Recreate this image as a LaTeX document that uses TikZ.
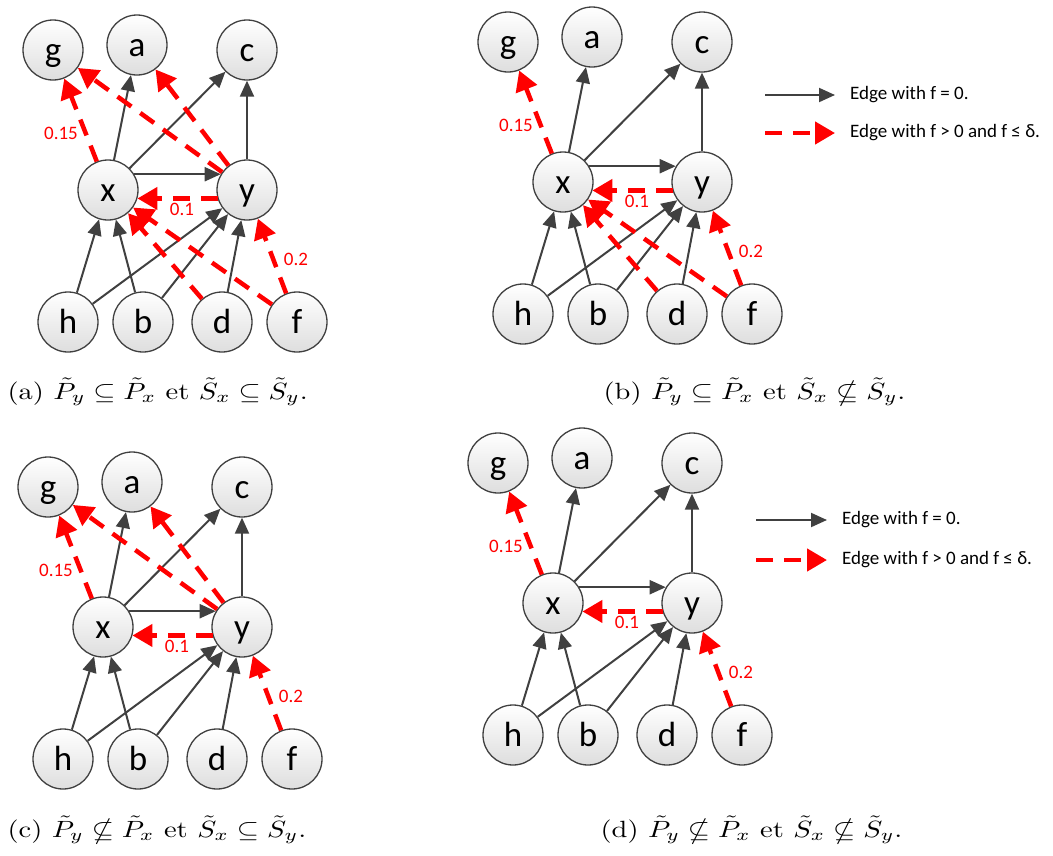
\documentclass[tikz,border=0pt]{standalone}
\usepackage{amssymb}
\usepackage{fontspec}
\newfontfamily\carlito{Carlito}
\usetikzlibrary{arrows.meta}
\definecolor{ln}{HTML}{404040}
\tikzset{
  vnode/.style={circle, draw=ln, line width=1.3pt, minimum size=60pt, inner sep=0pt,
    top color=white, bottom color=black!13, text=black,
    font=\carlito\fontsize{35}{35}\selectfont, text height=22pt, text depth=0pt},
  sol/.style={draw=ln, line width=2pt, -{Triangle[length=16pt,width=14pt]}},
  rdash/.style={draw=red, line width=4.5pt, dash pattern=on 17pt off 11pt,
    -{Triangle[length=20pt,width=22pt]}},
  lbl/.style={text=red, font=\carlito\fontsize{19}{19}\selectfont, inner sep=0pt},
  legtxt/.style={anchor=west, font=\carlito\fontsize{19}{19}\selectfont, inner sep=0pt},
  capt/.style={anchor=base west, inner sep=0pt, font=\fontsize{10}{12}\selectfont, xscale=2.85, yscale=2.35}
}
\newcommand{\gpanel}[3]{%
  \begin{scope}[shift={(#1,#2)}]
    \node[vnode] (#3x) at (0,0) {x};
    \node[vnode] (#3y) at (139,0) {y};
    \node[vnode] (#3g) at (-55,-140) {g};
    \node[vnode] (#3a) at (29,-145) {a};
    \node[vnode] (#3c) at (139,-140) {c};
    \node[vnode] (#3h) at (-40,132) {h};
    \node[vnode] (#3b) at (35,132) {b};
    \node[vnode] (#3d) at (114,132) {d};
    \node[vnode] (#3f) at (189,132) {f};
    \node[lbl] (#3l1) at (-47,-57) {0.15};
    \node[lbl] (#3l2) at (74,19) {0.1};
    \node[lbl] (#3l3) at (188,69) {0.2};
  \end{scope}
  \draw[sol] (#3x) -- (#3a);
  \draw[sol] (#3x) -- (#3c);
  \draw[sol] (#3x.31) -- (#3y.149);
  \draw[sol] (#3y) -- (#3c);
  \draw[sol] (#3h) -- (#3x);
  \draw[sol] (#3b) -- (#3x);
  \draw[sol] (#3h) -- (#3y);
  \draw[sol] (#3b) -- (#3y);
  \draw[sol] (#3d) -- (#3y);
  \draw[rdash] (#3x) -- (#3g);
  \draw[rdash] (#3y.196) -- (#3x.-16);
  \draw[rdash] (#3f) -- (#3y);
}
\begin{document}
\begin{tikzpicture}[x=1pt,y=-1pt]
\useasboundingbox (0,0) rectangle (1053,855);
% panel (a)
\gpanel{108}{190}{A}
\draw[rdash] (Ay) -- (Ag);
\draw[rdash] (Ay) -- (Aa);
\draw[rdash] (Ad) -- (Ax);
\draw[rdash] (Af) -- (Ax);
% panel (b)
\gpanel{563}{182}{B}
\draw[rdash] (Bd) -- (Bx);
\draw[rdash] (Bf) -- (Bx);
% panel (c)
\gpanel{103}{627}{C}
\draw[rdash] (Cy) -- (Cg);
\draw[rdash] (Cy) -- (Ca);
% panel (d)
\gpanel{553}{603}{D}
% legend (b)
\coordinate (lb1s) at (765,95);
\coordinate (lb1e) at (835,95);
\coordinate (lb2s) at (765,133);
\coordinate (lb2e) at (835,133);
\draw[sol] (lb1s) -- (lb1e);
\draw[rdash] (lb2s) -- (lb2e);
\node[legtxt] (lbt1) at (850,95) {Edge with f = 0.};
\node[legtxt] (lbt2) at (850,133) {Edge with f > 0 and f ≤ δ.};
% legend (d)
\coordinate (ld1s) at (756,520);
\coordinate (ld1e) at (827,520);
\coordinate (ld2s) at (756,560);
\coordinate (ld2e) at (827,560);
\draw[sol] (ld1s) -- (ld1e);
\draw[rdash] (ld2s) -- (ld2e);
\node[legtxt] (ldt1) at (842,520) {Edge with f = 0.};
\node[legtxt] (ldt2) at (842,560) {Edge with f > 0 and f ≤ δ.};
% captions
\node[capt] (capa) at (7,399) {(a) $\tilde{P}_y \subseteq \tilde{P}_x$ et $\tilde{S}_x \subseteq \tilde{S}_y$.};
\node[capt] (capb) at (603,399) {(b) $\tilde{P}_y \subseteq \tilde{P}_x$ et $\tilde{S}_x \nsubseteq \tilde{S}_y$.};
\node[capt] (capc) at (7,837) {(c) $\tilde{P}_y \nsubseteq \tilde{P}_x$ et $\tilde{S}_x \subseteq \tilde{S}_y$.};
\node[capt] (capd) at (600,837) {(d) $\tilde{P}_y \nsubseteq \tilde{P}_x$ et $\tilde{S}_x \nsubseteq \tilde{S}_y$.};
\end{tikzpicture}
\end{document}
